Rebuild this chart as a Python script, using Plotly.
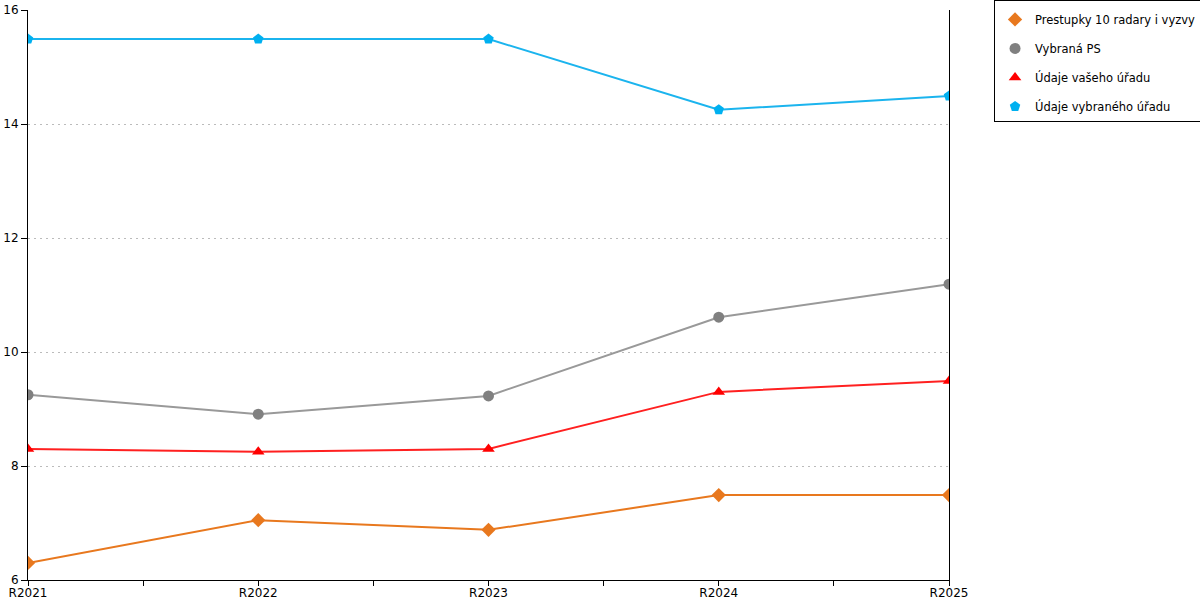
import plotly.graph_objects as go

years = ["R2021", "R2022", "R2023", "R2024", "R2025"]

prestupky = [6.30, 7.05, 6.88, 7.49, 7.49]
vybrana_ps = [9.25, 8.91, 9.23, 10.61, 11.19]
vas_urad = [8.30, 8.25, 8.30, 9.30, 9.49]
vybrany_urad = [15.49, 15.49, 15.49, 14.25, 14.49]

series = [
    ("Prestupky 10 radary i vyzvy", prestupky, "#E8781E", "#E8781E", "diamond"),
    ("Vybraná PS", vybrana_ps, "#999999", "#808080", "circle"),
    ("Údaje vašeho úřadu", vas_urad, "#FF2020", "#FF0000", "triangle-up"),
    ("Údaje vybraného úřadu", vybrany_urad, "#1BB4EE", "#00B0F0", "pentagon"),
]

xs = list(range(len(years)))

fig = go.Figure()
for i, (name, vals, line_col, mark_col, sym) in enumerate(series):
    fig.add_trace(go.Scatter(
        x=xs, y=vals, name=name, mode="lines+markers",
        line=dict(color=line_col, width=2),
        marker=dict(color=mark_col, symbol=sym, size=11),
        showlegend=False,
    ))
    # legend entry shows the marker only, like the original
    fig.add_trace(go.Scatter(
        x=[None], y=[None], name=name, mode="markers",
        marker=dict(color=mark_col, symbol=sym, size=11),
        legendgroup=f"g{i}",
    ))

tickvals = []
ticktext = []
for i, y in enumerate(years):
    tickvals.append(i)
    ticktext.append(y)
    if i < len(years) - 1:
        tickvals.append(i + 0.5)
        ticktext.append("")

fig.update_layout(
    width=1200, height=600,
    margin=dict(l=28, r=251, t=10, b=20, autoexpand=False),
    plot_bgcolor="white", paper_bgcolor="white",
    font=dict(family="DejaVu Sans", size=12, color="black"),
    showlegend=True,
    legend=dict(
        x=1.0489, y=1.0175, xanchor="left", yanchor="top",
        bordercolor="black", borderwidth=1,
        font=dict(size=11.5), tracegroupgap=10,
        traceorder="grouped", itemwidth=30,
        title=dict(text=" ", font=dict(size=3)),
    ),
)
fig.update_xaxes(
    range=[0, len(years) - 1], tickvals=tickvals, ticktext=ticktext,
    showline=True, linecolor="black", linewidth=1,
    ticks="outside", ticklen=5, tickcolor="black",
    ticklabelstandoff=-3,
    showgrid=False, zeroline=False, automargin=False,
)
fig.update_yaxes(
    range=[6, 16.0001], tickvals=[6, 8, 10, 12, 14, 16],
    showline=True, linecolor="black", linewidth=1, mirror=True,
    ticks="outside", ticklen=6, tickcolor="black",
    showgrid=True, gridcolor="#BBBBBB", griddash="2px,4px", gridwidth=1,
    zeroline=False, automargin=False,
)

# the page body has a default 8px margin; drop it so the figure fills the window
fig.write_html(
    "out.html",
    config={"displayModeBar": False},
    post_script="document.body.style.margin='0px';",
)
